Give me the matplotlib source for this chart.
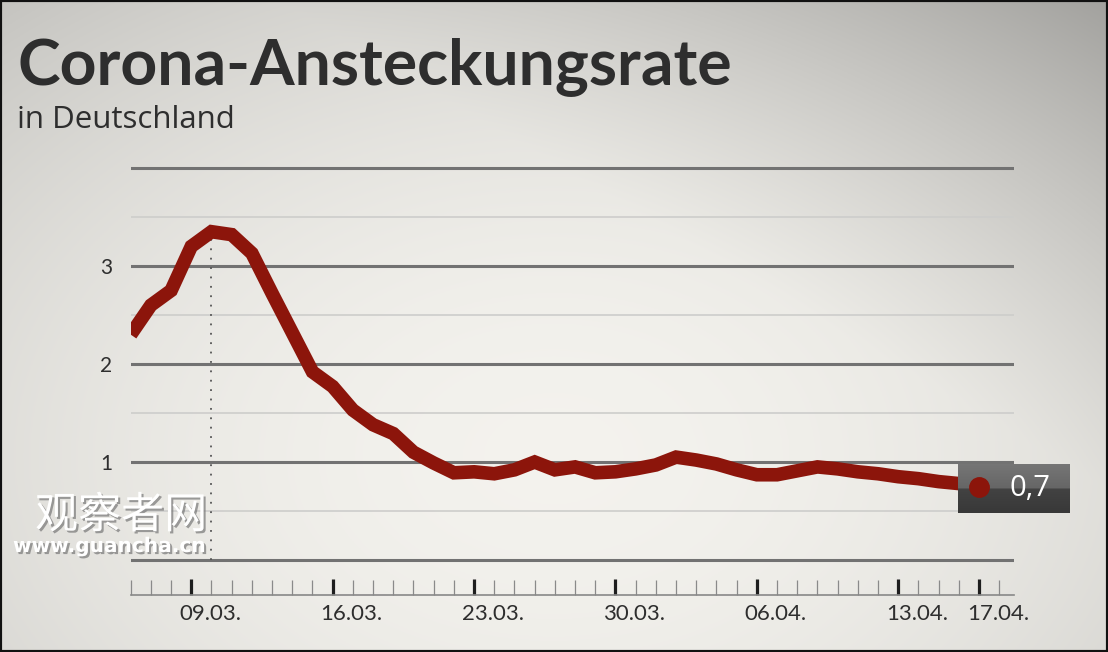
import matplotlib
matplotlib.use('Agg')
import matplotlib.pyplot as plt
import matplotlib.dates as mdates
import matplotlib.patheffects as pe
from matplotlib.patches import Rectangle
from matplotlib.transforms import ScaledTranslation
import numpy as np
import pandas as pd

# daily reproduction number, 06.03. - 17.04.
dates = pd.date_range('2020-03-06', '2020-04-17', freq='D')
rate = [2.30, 2.60, 2.75, 3.20, 3.35, 3.32, 3.13, 2.72, 2.32, 1.92,
        1.77, 1.53, 1.38, 1.29, 1.10, 0.99, 0.89, 0.90, 0.88, 0.92,
        1.00, 0.92, 0.95, 0.89, 0.90, 0.93, 0.97, 1.05, 1.02, 0.98,
        0.92, 0.87, 0.87, 0.91, 0.95, 0.93, 0.90, 0.88, 0.85, 0.83,
        0.80, 0.78, 0.75]
tick_dates = pd.to_datetime(['2020-03-09', '2020-03-16', '2020-03-23', '2020-03-30',
                             '2020-04-06', '2020-04-13', '2020-04-17'])
tick_labels = ['09.03.', '16.03.', '23.03.', '30.03.', '06.04.', '13.04.', '17.04.']
y_ticks = [1, 2, 3]
peak_date = pd.Timestamp('2020-03-10')
last_label = '0,7'

title = 'Corona-Ansteckungsrate'
subtitle = 'in Deutschland'

RED = '#8c150b'
TXT = '#2e2e2e'
W, H = 1108, 652

plt.rcParams['font.family'] = ['Lato', 'DejaVu Sans']

fig = plt.figure(figsize=(W / 100, H / 100), dpi=100)

# background vignette, darker towards the upper right
bg = fig.add_axes([0, 0, 1, 1], zorder=-10)
yy, xx = np.mgrid[0:1:300j, 0:1:500j]
r2 = ((xx - 0.5) / 0.85) ** 2 + ((yy - 0.3) / 1.0) ** 2
v = 0.955 - 0.22 * r2 - 0.18 * np.clip(xx + yy - 1.25, 0, None)
v = np.clip(v, 0, 1)
bg.imshow(np.dstack([v, v * 0.995, v * 0.975]), extent=[0, 1, 0, 1],
          aspect='auto', origin='lower')
bg.axis('off')

# main axes, placed in pixels
left, right, bottom, top = 130.7, 1014, 595, 163.1
ax = fig.add_axes([left / W, (H - bottom) / H, (right - left) / W, (bottom - top) / H])
ax.set_facecolor('none')
ax.set_xlim(dates[0], dates[0] + pd.Timedelta(days=43.73))
ax.set_ylim(-0.357, 4.05)

for lv in np.arange(0, 4.01, 0.5):
    if lv == int(lv):
        ax.axhline(lv, color='#727272', lw=2.2, zorder=1)
    else:
        ax.axhline(lv, color='#cdcdcb', lw=1.2, zorder=1)

ax.plot([peak_date, peak_date], [0, max(rate)], color='#555555', lw=1.3,
        linestyle=(0, (1, 4.2)), zorder=2)
ax.plot(dates, rate, color=RED, lw=9.8, solid_joinstyle='miter',
        solid_capstyle='butt', zorder=3)

# label box at the last value
inv = ax.transData.inverted()
x0, y0 = inv.transform((958, H - 513))
x1, y1 = inv.transform((1070, H - 464))
g = np.concatenate([np.linspace(0.46, 0.40, 25), np.linspace(0.26, 0.22, 25)])
ax.imshow(np.dstack([g, g, g]).reshape(50, 1, 3), extent=[x0, x1, y0, y1],
          aspect='auto', zorder=5, clip_on=False, interpolation='bilinear')
ax.set_xlim(dates[0], dates[0] + pd.Timedelta(days=43.73))
ax.set_ylim(-0.357, 4.05)
ax.plot(dates[-1], rate[-1], 'o', ms=14, color=RED, zorder=6, clip_on=False)
fig.text(1030 / W, 1 - 489 / H, last_label, color='white', fontsize=21,
         family=['Open Sans', 'DejaVu Sans'], ha='center', va='center', zorder=7)

# axes styling
for s in ['top', 'right', 'left']:
    ax.spines[s].set_visible(False)
ax.spines['bottom'].set_color('#888888')
ax.spines['bottom'].set_linewidth(1.2)

ax.set_xticks(tick_dates)
ax.set_xticklabels(tick_labels, ha='left')
ax.xaxis.set_minor_locator(mdates.DayLocator())
ax.tick_params(axis='x', which='major', direction='in', length=11.5, width=2.3,
               color='#1e1e1e', pad=6.5, labelsize=16, labelcolor=TXT)
ax.tick_params(axis='x', which='minor', direction='in', length=11, width=0.9,
               color='#8a8a8a')
off = ScaledTranslation(-12 / 100, 0, fig.dpi_scale_trans)
for lab in ax.get_xticklabels():
    lab.set_transform(lab.get_transform() + off)

ax.set_yticks(y_ticks)
ax.set_yticklabels([str(t) for t in y_ticks])
ax.tick_params(axis='y', length=0, pad=13.5, labelsize=15, labelcolor=TXT)

# titles
fig.text(17 / W, 1 - 84 / H, title, fontsize=46.3, fontweight='bold', color=TXT,
         va='baseline')
fig.text(17 / W, 1 - 128 / H, subtitle, fontsize=22.5, color=TXT,
         family=['Open Sans', 'DejaVu Sans'], va='baseline')

# watermark
shadow = [pe.withSimplePatchShadow(offset=(1.5, -1.5), shadow_rgbFace='#777777', alpha=0.7)]
fig.text(35 / W, 1 - 528 / H, '观察者网', fontsize=31, color='white',
         family=['Noto Sans CJK SC', 'DejaVu Sans'], va='baseline', path_effects=shadow)
fig.text(13 / W, 1 - 552 / H, 'www.guancha.cn', fontsize=14.5, fontweight='bold',
         color='white', family=['DejaVu Sans'], va='baseline', path_effects=shadow)

# frame
fig.patches.append(Rectangle((0, 0), 1, 1, transform=fig.transFigure, fill=False,
                             ec='#111111', lw=3))

fig.savefig('out.png', dpi=100)
